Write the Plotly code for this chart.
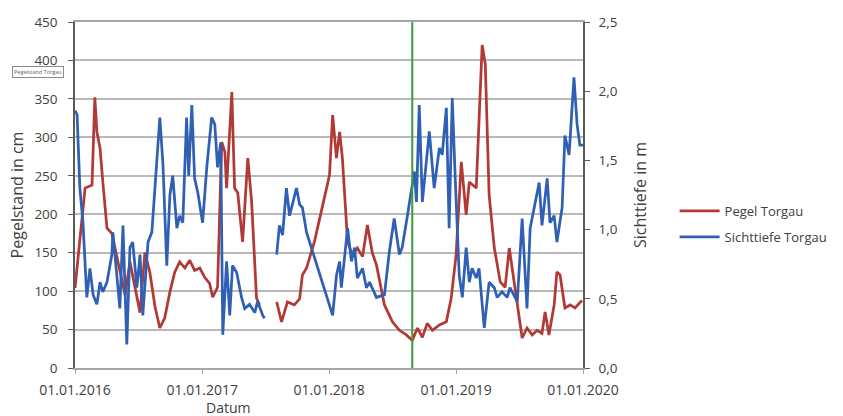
import plotly.graph_objects as go

# ---------------- data ----------------
pegel_dates = [
    "2016-01-01", "2016-01-30", "2016-02-19", "2016-02-27", "2016-03-04", "2016-03-13",
    "2016-03-21", "2016-04-02", "2016-04-16", "2016-04-25", "2016-05-09", "2016-05-24",
    "2016-06-07", "2016-06-21", "2016-07-06", "2016-07-20", "2016-08-03", "2016-08-18",
    "2016-09-01", "2016-09-15", "2016-09-30", "2016-10-14", "2016-10-28", "2016-11-12",
    "2016-11-26", "2016-12-10", "2016-12-25", "2017-01-08", "2017-01-22", "2017-01-31",
    "2017-02-14", "2017-02-26", "2017-03-07", "2017-03-12", "2017-03-27", "2017-04-04",
    "2017-04-13", "2017-04-27", "2017-05-12", "2017-05-23", "2017-06-06", "2017-06-15",
    "2017-07-10",
    "2017-08-03", "2017-08-17", "2017-09-03", "2017-09-23", "2017-10-08", "2017-10-16",
    "2017-10-28", "2017-11-20", "2017-12-10", "2018-01-02", "2018-01-11", "2018-01-22",
    "2018-01-31", "2018-02-08", "2018-02-23", "2018-03-09", "2018-03-23", "2018-04-07",
    "2018-04-21", "2018-05-05", "2018-05-17", "2018-06-09", "2018-07-02", "2018-07-22",
    "2018-08-11", "2018-08-28", "2018-09-12", "2018-09-26", "2018-10-10", "2018-10-25",
    "2018-11-14", "2018-12-04", "2018-12-18", "2019-01-01", "2019-01-16", "2019-01-30",
    "2019-02-08", "2019-02-28", "2019-03-17", "2019-03-26", "2019-04-06", "2019-04-21",
    "2019-05-08", "2019-05-22", "2019-06-03", "2019-06-11", "2019-06-26", "2019-07-10",
    "2019-07-24", "2019-08-08", "2019-08-22", "2019-09-05", "2019-09-14", "2019-09-25",
    "2019-10-10", "2019-10-18", "2019-10-27", "2019-11-10", "2019-11-25", "2019-12-09",
    "2019-12-29",
]
pegel_cm = [
    104, 234, 238, 352, 307, 286,
    242, 182, 175, 156, 127, 95,
    138, 105, 72, 150, 125, 80,
    52, 65, 99, 125, 138, 130,
    140, 127, 130, 118, 110, 92,
    105, 294, 281, 234, 359, 234,
    228, 164, 273, 216, 91, 82,
    None,
    86, 60, 86, 82, 90, 121,
    130, 165, 205, 251, 329, 273,
    307, 273, 164, 147, 156, 145,
    186, 150, 134, 82, 60, 49,
    43, 36, 52, 40, 58, 49,
    56, 60, 91, 147, 268, 199,
    242, 234, 420, 395, 225, 156,
    112, 105, 156, 130, 78, 39,
    52, 43, 49, 45, 73, 43,
    82, 125, 121, 78, 82, 78,
    88,
]

sicht_dates = [
    "2016-01-01", "2016-01-07", "2016-01-15", "2016-01-24", "2016-02-04", "2016-02-13",
    "2016-02-22", "2016-03-04", "2016-03-13", "2016-03-21", "2016-04-02", "2016-04-16",
    "2016-04-19", "2016-05-01", "2016-05-09", "2016-05-18", "2016-05-29", "2016-06-07",
    "2016-06-15", "2016-06-27", "2016-07-06", "2016-07-14", "2016-07-29", "2016-08-09",
    "2016-08-23", "2016-09-01", "2016-09-10", "2016-09-21", "2016-09-30", "2016-10-08",
    "2016-10-20", "2016-10-28", "2016-11-06", "2016-11-17", "2016-11-23", "2016-12-02",
    "2016-12-10", "2016-12-19", "2017-01-02", "2017-01-14", "2017-01-28", "2017-02-06",
    "2017-02-14", "2017-02-23", "2017-03-01", "2017-03-12", "2017-03-21", "2017-03-29",
    "2017-04-10", "2017-04-24", "2017-05-03", "2017-05-17", "2017-06-01", "2017-06-09",
    "2017-06-24", "2017-06-29",
    "2017-07-15",
    "2017-08-03", "2017-08-11", "2017-08-20", "2017-08-31", "2017-09-09", "2017-09-18",
    "2017-09-29", "2017-10-08", "2017-10-16", "2017-10-28", "2018-01-11", "2018-01-22",
    "2018-01-31", "2018-02-05", "2018-02-14", "2018-02-23", "2018-03-06", "2018-03-15",
    "2018-03-23", "2018-04-07", "2018-04-18", "2018-04-27", "2018-05-17", "2018-06-09",
    "2018-06-23", "2018-07-07", "2018-07-22", "2018-07-30", "2018-08-14", "2018-08-25",
    "2018-09-03", "2018-09-09", "2018-09-17", "2018-09-26", "2018-10-16", "2018-10-30",
    "2018-11-14", "2018-11-22", "2018-12-04", "2018-12-12", "2018-12-21", "2018-12-30",
    "2019-01-10", "2019-01-19", "2019-01-30", "2019-02-08", "2019-02-16", "2019-02-28",
    "2019-03-08", "2019-03-23", "2019-04-06", "2019-04-21", "2019-04-29", "2019-05-13",
    "2019-05-28", "2019-06-05", "2019-06-26", "2019-07-10", "2019-07-24", "2019-08-02",
    "2019-08-16", "2019-08-28", "2019-09-05", "2019-09-20", "2019-09-28", "2019-10-10",
    "2019-10-18", "2019-11-02", "2019-11-10", "2019-11-22", "2019-12-06", "2019-12-15",
    "2019-12-23", "2020-01-01",
]
sicht_m = [
    1.86, 1.83, 1.30, 1.05, 0.51, 0.72,
    0.53, 0.46, 0.62, 0.55, 0.62, 0.82,
    0.98, 0.67, 0.43, 1.03, 0.17, 0.87,
    0.91, 0.58, 0.82, 0.38, 0.91, 0.98,
    1.47, 1.81, 1.47, 0.74, 1.25, 1.39,
    1.01, 1.10, 1.05, 1.81, 1.39, 1.90,
    1.37, 1.27, 1.05, 1.45, 1.81, 1.76,
    1.45, 1.63, 0.24, 0.77, 0.38, 0.74,
    0.69, 0.51, 0.43, 0.46, 0.40, 0.48,
    0.38, 0.36,
    None,
    0.82, 1.03, 0.96, 1.30, 1.10, 1.20,
    1.30, 1.18, 1.16, 0.98, 0.38, 0.67,
    0.77, 0.58, 0.82, 1.01, 0.77, 0.87,
    0.65, 0.72, 0.58, 0.62, 0.51, 0.53,
    0.84, 1.08, 0.82, 0.87, 1.10, 1.27,
    1.42, 1.20, 1.90, 1.20, 1.71, 1.30,
    1.59, 1.54, 1.88, 1.01, 1.95, 1.34,
    0.67, 0.51, 0.87, 0.62, 0.72, 0.65,
    0.72, 0.29, 0.62, 0.58, 0.51, 0.55,
    0.51, 0.58, 0.48, 1.08, 0.43, 1.01,
    1.20, 1.34, 1.03, 1.37, 1.05, 1.10,
    0.91, 1.16, 1.68, 1.54, 2.10, 1.76,
    1.61, 1.61,
]

x_tick_vals = ["2016-01-01", "2017-01-01", "2018-01-01", "2019-01-01", "2020-01-01"]
x_tick_text = ["01.01.2016", "01.01.2017", "01.01.2018", "01.01.2019", "01.01.2020"]
marker_date = "2018-08-28"

left_range = [0, 450]
right_range = [0, 2.5]

# ---------------- figure ----------------
FONT = "Open Sans, Liberation Sans, sans-serif"
TXT = "#404040"
RED = "#b23a36"
BLUE = "#3060b4"

fig = go.Figure()
fig.add_trace(go.Scatter(
    x=pegel_dates, y=pegel_cm, name="Pegel Torgau", mode="lines",
    line=dict(color=RED, width=2.75), connectgaps=False, legend="legend",
))
fig.add_trace(go.Scatter(
    x=sicht_dates, y=sicht_m, name="Sichttiefe Torgau", mode="lines",
    line=dict(color=BLUE, width=2.75), connectgaps=False, yaxis="y2", legend="legend2",
))

fig.add_shape(type="line", xref="x", yref="paper", x0=marker_date, x1=marker_date,
              y0=0, y1=1, line=dict(color="#3b9a3b", width=2))

fig.update_layout(
    width=843, height=416,
    margin=dict(l=75, r=259, t=22, b=48),
    paper_bgcolor="white", plot_bgcolor="white",
    separators=",.",
    font=dict(family=FONT, size=12, color=TXT),
    xaxis=dict(
        type="date", range=[x_tick_vals[0], x_tick_vals[-1]],
        tickvals=x_tick_vals, ticktext=x_tick_text,
        showgrid=False, showline=True, linecolor="#a6a6a6", linewidth=2, mirror=True,
        ticks="outside", ticklen=4, tickcolor="#a6a6a6", ticklabelstandoff=4,
        tickfont=dict(size=14, color=TXT), zeroline=False,
    ),
    yaxis=dict(
        range=left_range, dtick=50, tick0=0,
        showgrid=True, gridcolor="#b9b9b9", gridwidth=1.5,
        showline=True, linecolor="#5a5a5a", linewidth=1.5,
        ticks="outside", ticklen=5, tickcolor="#5a5a5a", ticklabelstandoff=8,
        tickfont=dict(size=13.5, color=TXT), zeroline=False,
        title=dict(text="Pegelstand in cm", font=dict(size=16, color=TXT), standoff=7),
    ),
    yaxis2=dict(
        range=right_range, dtick=0.5, tick0=0, tickformat=".1f",
        overlaying="y", side="right", showgrid=False,
        showline=True, linecolor="#5a5a5a", linewidth=1.5,
        ticks="outside", ticklen=5, tickcolor="#5a5a5a", ticklabelstandoff=6,
        tickfont=dict(size=13.5, color=TXT), zeroline=False,
        title=dict(text="Sichttiefe in m", font=dict(size=16, color=TXT), standoff=18),
    ),
    legend=dict(x=1.178, y=0.4538, xanchor="left", yanchor="middle",
                bgcolor="rgba(0,0,0,0)", font=dict(size=13, color=TXT), itemwidth=40),
    legend2=dict(x=1.178, y=0.3786, xanchor="left", yanchor="middle",
                 bgcolor="rgba(0,0,0,0)", font=dict(size=13, color=TXT), itemwidth=40),
    showlegend=True,
)

fig.add_annotation(text="Datum", xref="paper", yref="paper", x=0.3006, y=-0.1156,
                   xanchor="center", yanchor="middle", showarrow=False,
                   font=dict(size=14, color=TXT))
fig.add_annotation(text="Pegelstand Torgau", xref="paper", yref="paper",
                   x=-0.125, y=0.8555, xanchor="left", yanchor="middle", showarrow=False,
                   font=dict(size=5.5, color="#606060"), bordercolor="#8a8a8a",
                   borderwidth=1, borderpad=1, bgcolor="white")

fig.write_html("out.html",
               config={"displayModeBar": False},
               post_script="document.body.style.margin='0';document.body.style.overflow='hidden';")
